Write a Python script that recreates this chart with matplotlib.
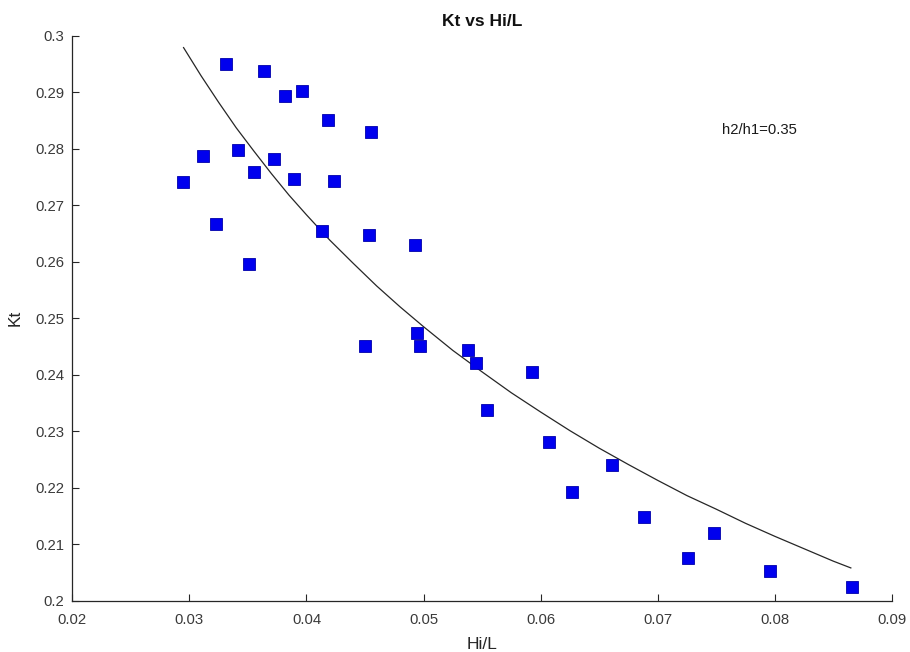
import numpy as np
import matplotlib
matplotlib.use('Agg')
import matplotlib.pyplot as plt

plt.rcParams['font.family'] = ['Liberation Sans', 'DejaVu Sans']

# measured points (Hi/L, Kt)
hi_l = [0.02945, 0.03114, 0.03315, 0.03418, 0.03224, 0.03549, 0.03640, 0.03720,
        0.03819, 0.03890, 0.03962, 0.04181, 0.04232, 0.04553, 0.04132, 0.04534,
        0.03509, 0.04502, 0.04927, 0.04946, 0.04967, 0.05379, 0.05450, 0.05923,
        0.05539, 0.06071, 0.06606, 0.06267, 0.06880, 0.07483, 0.07261, 0.07956,
        0.08658]
kt = [0.2741, 0.2788, 0.2950, 0.2798, 0.2667, 0.2759, 0.2938, 0.2782,
      0.2894, 0.2746, 0.2903, 0.2851, 0.2742, 0.2830, 0.2654, 0.2648,
      0.2596, 0.2451, 0.2629, 0.2473, 0.2451, 0.2443, 0.2421, 0.2404,
      0.2337, 0.2281, 0.2240, 0.2192, 0.2149, 0.2119, 0.2076, 0.2053,
      0.2024]

# trend curve
fit_x = [0.0295, 0.031, 0.0325, 0.034, 0.0355, 0.037, 0.0385, 0.040,
         0.042, 0.044, 0.046, 0.048, 0.050, 0.0525, 0.055, 0.0575,
         0.060, 0.0625, 0.065, 0.0675, 0.070, 0.0725, 0.075, 0.0775,
         0.080, 0.0825, 0.085, 0.0865]
fit_y = [0.2979, 0.2929, 0.2882, 0.2837, 0.2796, 0.2756, 0.2718, 0.2683,
         0.2638, 0.2597, 0.2557, 0.2520, 0.2485, 0.2443, 0.2405, 0.2368,
         0.2334, 0.2301, 0.2270, 0.2241, 0.2213, 0.2186, 0.2162, 0.2137,
         0.2114, 0.2092, 0.2070, 0.2058]

xticks = [0.02, 0.03, 0.04, 0.05, 0.06, 0.07, 0.08, 0.09]
yticks = [0.2, 0.21, 0.22, 0.23, 0.24, 0.25, 0.26, 0.27, 0.28, 0.29, 0.3]

fig = plt.figure(figsize=(9.1, 6.52), dpi=100)
ax = fig.add_axes([0.0795, 0.0787, 0.9005, 0.8665])

ax.plot(hi_l, kt, 's', color='#0000ee', mec='#0000aa', mew=0.6, ms=8, zorder=3)
ax.plot(fit_x, fit_y, '-', color='#262626', lw=0.9, zorder=2)

ax.set_xlim(0.02, 0.09)
ax.set_ylim(0.2, 0.3)
ax.set_xticks(xticks)
ax.set_yticks(yticks)
ax.set_xticklabels(['%g' % t for t in xticks])
ax.set_yticklabels(['%g' % t for t in yticks])

for s in ['top', 'right']:
    ax.spines[s].set_visible(False)
for s in ['left', 'bottom']:
    ax.spines[s].set_color('#262626')
    ax.spines[s].set_linewidth(0.9)
ax.tick_params(direction='in', length=5, width=0.8, color='#262626',
               labelcolor='#3a3a3a', labelsize=10.7)
ax.tick_params(axis='x', pad=9)
ax.tick_params(axis='y', pad=6)

fig.text(0.5296, 1 - 21 / 652, 'Kt vs Hi/L', fontsize=12.5, fontweight='bold',
         ha='center', va='center', color='#111111')
ax.set_xlabel('Hi/L', fontsize=12.5, color='#262626', labelpad=7)
ax.set_ylabel('Kt', fontsize=12.5, color='#262626', labelpad=9)

ax.text(0.07546, 0.28331, 'h2/h1=0.35', fontsize=10.7, color='#1a1a1a', va='center')

fig.savefig('out.png', dpi=100)
